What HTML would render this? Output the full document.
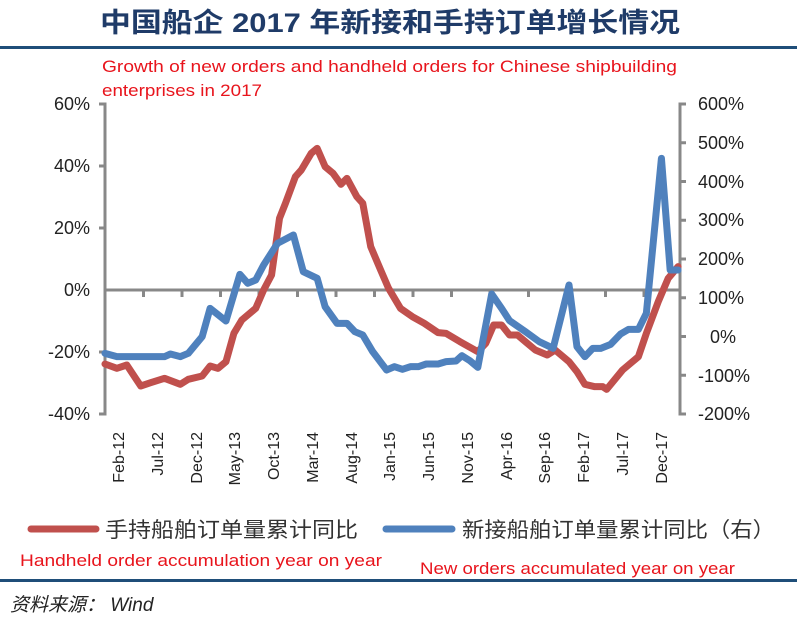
<!DOCTYPE html>
<html><head><meta charset="utf-8"><style>
body{margin:0;width:800px;height:626px;background:#fff;overflow:hidden}
svg{display:block}
</style></head><body>
<svg width="800" height="626" xmlns="http://www.w3.org/2000/svg" font-family="Liberation Sans, Noto Sans CJK SC, sans-serif">
<text x="390" y="32" text-anchor="middle" font-size="27" font-weight="bold" fill="#1f3b68" textLength="580" lengthAdjust="spacingAndGlyphs">中国船企 2017 年新接和手持订单增长情况</text>
<rect x="0" y="46" width="797" height="3" fill="#1f4e79"/>
<text x="102" y="72" font-size="17" fill="#e8141c" textLength="575" lengthAdjust="spacingAndGlyphs">Growth of new orders and handheld orders for Chinese shipbuilding</text>
<text x="102" y="96" font-size="17" fill="#e8141c" textLength="160" lengthAdjust="spacingAndGlyphs">enterprises in 2017</text>
<g stroke="#888" stroke-width="3" fill="none">
<path d="M99 104H105V414H99M99 166H105M99 228H105M99 352H105"/>
<path d="M686 104H680V414H686M680 142.75H686M680 181.5H686M680 220.25H686M680 259H686M680 297.75H686M680 336.5H686M680 375.25H686"/>
<path d="M105 290H680"/>
<path d="M143.5 290v7M182 290v7M220.5 290v7M259 290v7M297.5 290v7M336 290v7M374.5 290v7M413 290v7M451.5 290v7M490 290v7M528.5 290v7M567 290v7M605.5 290v7M644 290v7"/>
</g>
<g font-size="18" fill="#222" text-anchor="end">
<text x="90" y="110">60%</text><text x="90" y="172">40%</text><text x="90" y="234">20%</text><text x="90" y="296">0%</text><text x="90" y="358">-20%</text><text x="90" y="420">-40%</text>
</g>
<g font-size="18" fill="#222">
<text x="698" y="110">600%</text><text x="698" y="149">500%</text><text x="698" y="188">400%</text><text x="698" y="226">300%</text><text x="698" y="265">200%</text><text x="698" y="304">100%</text><text x="710" y="343">0%</text><text x="698" y="382">-100%</text><text x="698" y="420">-200%</text>
</g>
<g font-size="16" fill="#222" text-anchor="end">
<text transform="translate(124,432) rotate(-90)">Feb-12</text>
<text transform="translate(163,432) rotate(-90)">Jul-12</text>
<text transform="translate(202,432) rotate(-90)">Dec-12</text>
<text transform="translate(240,432) rotate(-90)">May-13</text>
<text transform="translate(279,432) rotate(-90)">Oct-13</text>
<text transform="translate(318,432) rotate(-90)">Mar-14</text>
<text transform="translate(357,432) rotate(-90)">Aug-14</text>
<text transform="translate(395,432) rotate(-90)">Jan-15</text>
<text transform="translate(434,432) rotate(-90)">Jun-15</text>
<text transform="translate(473,432) rotate(-90)">Nov-15</text>
<text transform="translate(512,432) rotate(-90)">Apr-16</text>
<text transform="translate(550,432) rotate(-90)">Sep-16</text>
<text transform="translate(589,432) rotate(-90)">Feb-17</text>
<text transform="translate(628,432) rotate(-90)">Jul-17</text>
<text transform="translate(667,432) rotate(-90)">Dec-17</text>
</g>
<g transform="matrix(0.3966,0,0,0.33333,87.15,90)" fill="none" stroke-linejoin="round" stroke-linecap="round">
<polyline vector-effect="non-scaling-stroke" stroke="#c0504d" stroke-width="7" points="45,822 75,835 100,825 135,888 160,878 195,865 235,883 255,868 290,858 310,828 330,835 350,815 370,730 390,690 425,655 445,600 465,555 485,385 500,340 525,260 540,240 565,190 580,175 600,230 620,250 640,283 655,265 680,320 695,340 715,470 740,540 760,595 790,655 820,680 850,700 885,728 905,730 940,755 985,785 1005,760 1025,705 1045,705 1065,735 1085,735 1105,755 1130,780 1160,795 1180,780 1215,815 1235,845 1255,883 1280,890 1300,890 1310,898 1350,840 1390,800 1410,730 1440,635 1465,565 1490,530"/>
<polyline vector-effect="non-scaling-stroke" stroke="#4f81bd" stroke-width="7" points="45,790 75,800 195,800 210,792 235,800 255,790 290,740 310,655 350,693 385,553 405,580 425,570 445,525 480,460 520,435 545,545 580,565 600,650 630,700 655,700 675,725 695,735 720,785 755,840 775,830 795,838 815,830 835,830 855,822 885,822 905,815 930,813 945,797 965,812 985,832 1020,612 1045,655 1065,692 1105,725 1140,755 1175,775 1215,585 1235,770 1255,800 1275,775 1295,775 1320,763 1345,732 1365,718 1390,718 1410,670 1448,205 1470,540 1490,540"/>
</g>
<line x1="31" y1="529" x2="96" y2="529" stroke="#c0504d" stroke-width="7" stroke-linecap="round"/>
<text x="105" y="537" font-size="21" fill="#333" textLength="253" lengthAdjust="spacingAndGlyphs">手持船舶订单量累计同比</text>
<line x1="386" y1="529" x2="452" y2="529" stroke="#4f81bd" stroke-width="7" stroke-linecap="round"/>
<text x="462" y="537" font-size="21" fill="#333" textLength="313" lengthAdjust="spacingAndGlyphs">新接船舶订单量累计同比（右）</text>
<text x="20" y="566" font-size="17" fill="#e8141c" textLength="362" lengthAdjust="spacingAndGlyphs">Handheld order accumulation year on year</text>
<text x="420" y="574" font-size="17" fill="#e8141c" textLength="315" lengthAdjust="spacingAndGlyphs">New orders accumulated year on year</text>
<rect x="0" y="579" width="797" height="3" fill="#1f4e79"/>
<text x="10" y="611" font-size="19" font-style="italic" fill="#222">资料来源：  Wind</text>
</svg>
</body></html>
